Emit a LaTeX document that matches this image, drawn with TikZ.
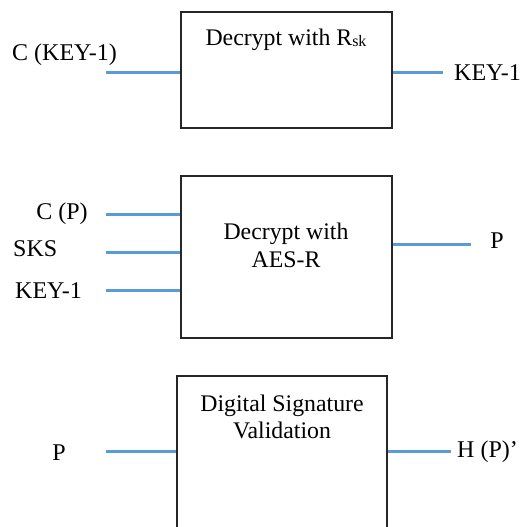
\documentclass[tikz,border=0pt]{standalone}
\usepackage{fontspec}
\setmainfont{Liberation Serif}
\begin{document}
\begin{tikzpicture}[x=1pt,y=-1pt,
  box/.style={draw=black!85,line width=1.1pt,fill=none,inner sep=0pt},
  wire/.style={draw={rgb,255:red,91;green,155;blue,213},line width=3pt},
  lbl/.style={inner sep=0pt,font=\fontsize{24}{27}\selectfont},
  ttl/.style={inner sep=0pt,align=center,font=\fontsize{23.8}{27.5}\selectfont}]
\useasboundingbox (0,0) rectangle (522,527);
\clip (0,0) rectangle (522,527);

% stage 1: recover KEY-1
\node[box,minimum width=211pt,minimum height=116pt] (b1) at (286.5,70) {};
\node[ttl] (t1) at (286,39.5) {Decrypt with R\raisebox{-0.15ex}{\fontsize{16}{16}\selectfont sk}};
\node[lbl] (c1) at (64.5,55) {C (KEY-1)};
\node[lbl,anchor=west] (k1) at (454,73) {KEY-1};
\coordinate (i1) at (106,72);
\coordinate (o1) at (443,72);
\draw[wire] (i1) -- (i1 -| b1.west);
\draw[wire] (o1 -| b1.east) -- (o1);

% stage 2: AES-R decryption
\node[box,minimum width=211pt,minimum height=162pt] (b2) at (286.5,257) {};
\node[ttl] (t2) at (286,245.5) {Decrypt with\\AES-R};
\node[lbl] (cp) at (62,213.5) {C (P)};
\node[lbl,anchor=west] (sks) at (13,249) {SKS};
\node[lbl,anchor=west] (k2) at (15,291) {KEY-1};
\node[lbl] (p2) at (497,241) {P};
\coordinate (ia) at (106,214);
\coordinate (ib) at (106,252);
\coordinate (ic) at (106,290);
\coordinate (o2) at (471,244);
\draw[wire] (ia) -- (ia -| b2.west);
\draw[wire] (ib) -- (ib -| b2.west);
\draw[wire] (ic) -- (ic -| b2.west);
\draw[wire] (o2 -| b2.east) -- (o2);

% stage 3: signature check
\node[box,minimum width=210pt,minimum height=180pt] (b3) at (282,466) {};
\node[ttl] (t3) at (282,417) {Digital Signature\\Validation};
\node[lbl] (p3) at (59,453) {P};
\node[lbl,anchor=west] (h3) at (457,451.5) {H (P)'};
\coordinate (i3) at (106,451);
\coordinate (o3) at (451,451);
\draw[wire] (i3) -- (i3 -| b3.west);
\draw[wire] (o3 -| b3.east) -- (o3);
\end{tikzpicture}
\end{document}
